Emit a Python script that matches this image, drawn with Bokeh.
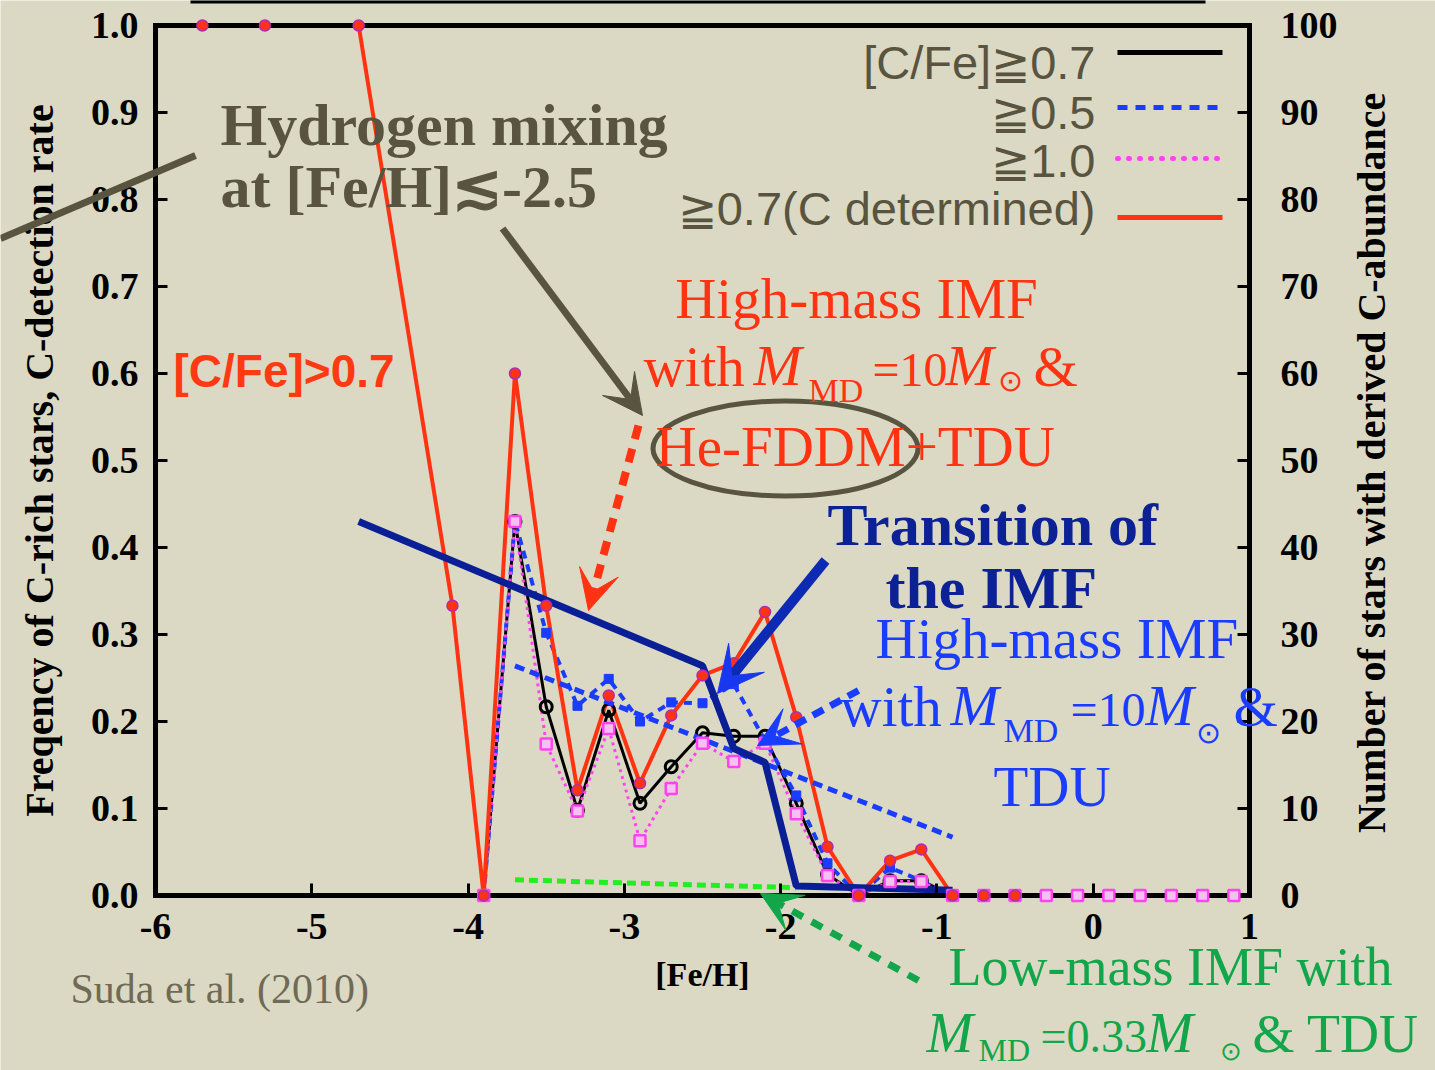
import math
from bokeh.plotting import figure
from bokeh.models import (Range1d, LinearAxis, FixedTicker, Label, Arrow, VeeHead,
                          ColumnDataSource, CDSView, BooleanFilter)
from bokeh.embed import file_html
from bokeh.resources import INLINE

# ---------------- data ----------------
# [C/Fe]>=0.7 among stars with C determined (red)
feh_red = [-5.7, -5.3, -4.7, -4.1, -3.9, -3.7, -3.5, -3.3, -3.1, -2.9, -2.7, -2.5,
           -2.3, -2.1, -1.9, -1.7, -1.5, -1.3, -1.1, -0.9, -0.7, -0.5]
frac_red = [1.0, 1.0, 1.0, 0.333, 0.0, 0.60, 0.333, 0.121, 0.230, 0.129, 0.207, 0.253,
            0.267, 0.326, 0.205, 0.056, 0.0, 0.040, 0.053, 0.0, 0.0, 0.0]

feh_bins = [-3.9, -3.7, -3.5, -3.3, -3.1, -2.9, -2.7, -2.5, -2.3, -2.1, -1.9, -1.7,
            -1.5, -1.3, -1.1, -0.9, -0.7, -0.5, -0.3, -0.1, 0.1, 0.3, 0.5, 0.7, 0.9]
frac_07 = [0.0, 0.430, 0.217, 0.098, 0.213, 0.106, 0.148, 0.187, 0.183, 0.183, 0.106, 0.024,
           0.0, 0.017, 0.017, 0.0, 0.0, 0.0, 0.0, 0.0, 0.0, 0.0, 0.0, 0.0, 0.0]
frac_05 = [0.0, 0.430, 0.302, 0.218, 0.249, 0.200, 0.222, 0.221, 0.243, 0.178, 0.115, 0.037,
           0.0, 0.032, 0.017, 0.0, 0.0, 0.0, 0.0, 0.0, 0.0, 0.0, 0.0, 0.0, 0.0]
frac_10 = [0.0, 0.430, 0.174, 0.097, 0.192, 0.063, 0.123, 0.175, 0.154, 0.175, 0.094, 0.023,
           0.0, 0.016, 0.016, 0.0, 0.0, 0.0, 0.0, 0.0, 0.0, 0.0, 0.0, 0.0, 0.0]

# model curves
feh_transition = [-4.7, -2.5, -2.3, -2.1, -1.9, -0.9]
frac_transition = [0.430, 0.264, 0.169, 0.153, 0.011, 0.006]
feh_highmass = [-3.7, -0.9]
frac_highmass = [0.264, 0.067]
feh_lowmass = [-3.7, -1.9]
frac_lowmass = [0.018, 0.009]

x_ticks = [-6, -5, -4, -3, -2, -1, 0, 1]
x_tick_labels = ["-6", "-5", "-4", "-3", "-2", "-1", "0", "1"]
y_ticks = [0.0, 0.1, 0.2, 0.3, 0.4, 0.5, 0.6, 0.7, 0.8, 0.9, 1.0]
y_tick_labels = ["0.0", "0.1", "0.2", "0.3", "0.4", "0.5", "0.6", "0.7", "0.8", "0.9", "1.0"]
n_ticks = [0, 10, 20, 30, 40, 50, 60, 70, 80, 90, 100]
n_tick_labels = ["0", "10", "20", "30", "40", "50", "60", "70", "80", "90", "100"]

legend_labels = ["[C/Fe]≧0.7", "≧0.5", "≧1.0", "≧0.7(C determined)"]

# ---------------- styles ----------------
BG = "#dbd9c4"
OLIVE = "#58543f"
RED = "#ff3311"
BLUE = "#1a3cff"
MAG = "#ff44ee"
NAVY = "#0a1f96"
GREEN_LINE = "#22ee22"
GREEN_TXT = "#12a54a"
SERIF = "Liberation Serif"
SANS = "Liberation Sans"

W, H = 1435, 1070
BASE_K = 0.34              # baseline correction for Label text (fraction of font size)


def X(px):                 # picture pixel -> [Fe/H]
    return -6 + (px - 155) * 7 / 1094


def Y(py):                 # picture pixel -> fraction
    return (895 - py) / 870


p = figure(width=W, height=H,
           x_range=Range1d(X(0), X(W)), y_range=Range1d(Y(H), Y(0)),
           output_backend="svg", toolbar_location=None,
           x_axis_location=None, y_axis_location=None,
           min_border=0, min_border_left=0, min_border_right=0,
           min_border_top=0, min_border_bottom=0,
           background_fill_color=BG, border_fill_color=BG, outline_line_color=None)
p.grid.visible = False
p.extra_y_ranges = {"n": Range1d(100 * Y(H), 100 * Y(0))}


def style_axis(ax, standoff):
    ax.major_label_text_font = SERIF
    ax.major_label_text_font_style = "bold"
    ax.major_label_text_font_size = "38px"
    ax.major_label_text_color = "black"
    ax.major_label_standoff = standoff
    ax.axis_line_width = 5
    ax.axis_line_cap = "square"
    ax.major_tick_line_width = 3
    ax.major_tick_in = 12
    ax.major_tick_out = 0
    ax.minor_tick_line_color = None
    ax.axis_label_text_font = SERIF
    ax.axis_label_text_font_style = "bold"
    ax.axis_label_text_color = "black"


xa = LinearAxis(fixed_location=0.0, bounds=(-6, 1), ticker=FixedTicker(ticks=x_ticks))
xa.major_label_overrides = dict(zip(x_ticks, x_tick_labels))
style_axis(xa, 18)
xa.axis_label = "[Fe/H]"
xa.axis_label_standoff = 14
xa.axis_label_text_font_size = "34px"
p.add_layout(xa, "below")

ya = LinearAxis(fixed_location=-6.0, bounds=(0, 1), ticker=FixedTicker(ticks=y_ticks))
ya.major_label_overrides = dict(zip(y_ticks, y_tick_labels))
style_axis(ya, 17)
ya.axis_label = "Freqency of C-rich stars, C-detection rate"
ya.axis_label_standoff = 26
ya.axis_label_text_font_size = "40px"
p.add_layout(ya, "left")

ra = LinearAxis(y_range_name="n", fixed_location=1.0, bounds=(0, 100),
                ticker=FixedTicker(ticks=n_ticks))
ra.major_label_overrides = dict(zip(n_ticks, n_tick_labels))
style_axis(ra, 31)
p.add_layout(ra, "right")

ta = LinearAxis(fixed_location=1.0, bounds=(-6, 1), ticker=FixedTicker(ticks=[]))
style_axis(ta, 0)
p.add_layout(ta, "above")

# right axis title (reads bottom-to-top as in the reference)
p.add_layout(Label(x=X(1371), y=Y(462), text="Number of stars with derived C-abundance",
                   angle=math.pi / 2, text_font=SERIF, text_font_style="bold",
                   text_font_size="40px", text_color="black", text_align="center",
                   text_baseline="middle"))

# partial frame line at the very top of the slide
p.segment(x0=[X(190)], y0=[Y(1)], x1=[X(1205)], y1=[Y(1)], line_color="black", line_width=4)

# ---------------- data series ----------------
src_bins = ColumnDataSource(dict(x=feh_bins, f07=frac_07, f05=frac_05, f10=frac_10))
nz07 = CDSView(filter=BooleanFilter([v > 0 for v in frac_07]))
nz05 = CDSView(filter=BooleanFilter([v > 0 for v in frac_05]))
src_red = ColumnDataSource(dict(x=feh_red, y=frac_red))

p.line("x", "f07", source=src_bins, line_color="black", line_width=3)
p.line("x", "f05", source=src_bins, line_color=BLUE, line_width=4, line_dash="8 6")
p.line("x", "f10", source=src_bins, line_color=MAG, line_width=3, line_dash="3 4")
p.line("x", "y", source=src_red, line_color=RED, line_width=4)

p.scatter("x", "f07", source=src_bins, view=nz07, marker="circle", size=12,
          fill_color=None, line_color="black", line_width=3)
p.scatter("x", "f05", source=src_bins, view=nz05, marker="square", size=9,
          fill_color=BLUE, line_color=BLUE)
p.scatter("x", "f10", source=src_bins, marker="square", size=11, level="annotation",
          fill_color="#f6c0f2", line_color=MAG, line_width=2.5)
p.scatter("x", "y", source=src_red, marker="circle", size=11, level="annotation",
          fill_color=RED, line_color="#b02cb0", line_width=1.5)

p.line(feh_lowmass, frac_lowmass, line_color=GREEN_LINE, line_width=5, line_dash="9 5")
p.line(feh_highmass, frac_highmass, line_color=BLUE, line_width=5, line_dash="10 6")
p.line(feh_transition, frac_transition, line_color=NAVY, line_width=7)


# ---------------- annotations ----------------
def lab(px, py, text, size, color, font=SERIF, style="normal", align="left"):
    p.add_layout(Label(x=X(px), y=Y(py - BASE_K * size), text=text, text_font=font,
                       text_font_size=f"{size}px", text_font_style=style,
                       text_color=color, text_align=align, text_baseline="alphabetic"))


def arrow(p0, p1, color, width, dash="solid", head=36, head_color=None):
    hc = head_color or color
    p.add_layout(Arrow(end=VeeHead(size=head, fill_color=hc, line_color=hc),
                       x_start=X(p0[0]), y_start=Y(p0[1]), x_end=X(p1[0]), y_end=Y(p1[1]),
                       line_color=color, line_width=width, line_dash=dash))


# ---------------- legend (manual, right-aligned text) ----------------
leg_text_y = [78, 128, 176, 224]
leg_line_y = [52, 107, 158, 217]
leg_styles = [dict(line_color="black", line_width=5),
              dict(line_color=BLUE, line_width=5, line_dash="10 8"),
              dict(line_color=MAG, line_width=5, line_dash="1 10", line_cap="round"),
              dict(line_color=RED, line_width=5)]
for txt, ty, ly, st in zip(legend_labels, leg_text_y, leg_line_y, leg_styles):
    lab(1095, ty, txt, 47, OLIVE, font=SANS, align="right")
    p.segment(x0=[X(1117)], y0=[Y(ly)], x1=[X(1222)], y1=[Y(ly)], **st)

# pointer line from the left edge
p.add_layout(Arrow(end=None, x_start=X(0), y_start=Y(238), x_end=X(195), y_end=Y(155),
                   line_color=OLIVE, line_width=7))

# Hydrogen mixing
lab(220, 145, "Hydrogen mixing", 60, OLIVE, style="bold")
lab(220, 207, "at [Fe/H]≲-2.5", 60, OLIVE, style="bold")
arrow((502, 228), (642, 415), OLIVE, 7, head=40)

# [C/Fe]>0.7
lab(173, 386, "[C/Fe]>0.7", 46, "#ff3a12", font=SANS, style="bold")

# red block
lab(856, 317, "High-mass IMF", 57, RED, align="center")
lab(643, 385, "with", 57, RED)
lab(753, 385, "M", 58, RED, style="italic")
lab(808, 402, "MD", 34, RED)
lab(872, 385, "=10", 48, RED)
lab(945, 385, "M", 58, RED, style="italic")
lab(997, 390, "⊙", 30, RED)
lab(1033, 385, "&", 57, RED)
lab(655, 465, "He-FDDM+TDU", 57, RED)
p.ellipse(x=[X(785)], y=[Y(448)], width=265, height=95, width_units="screen",
          height_units="screen", fill_color=None, line_color=OLIVE, line_width=5)
arrow((638, 425), (588, 610), RED, 8, dash="14 10", head=40)

# transition of the IMF
lab(827, 545, "Transition of", 60, "#0c2196", style="bold")
lab(885, 608, "the IMF", 60, "#0c2196", style="bold")
arrow((825, 560), (717, 693), "#0d2ab5", 10, head=46, head_color="#1838f0")

# blue block
lab(875, 657, "High-mass IMF", 57, BLUE)
lab(840, 725, "with", 57, BLUE)
lab(950, 725, "M", 58, BLUE, style="italic")
lab(1003, 742, "MD", 34, BLUE)
lab(1070, 725, "=10", 48, BLUE)
lab(1145, 725, "M", 58, BLUE, style="italic")
lab(1195, 742, "⊙", 30, BLUE)
lab(1233, 725, "&", 57, BLUE)
lab(993, 805, "TDU", 57, BLUE)
arrow((858, 690), (757, 745), BLUE, 7, dash="12 8", head=40)

# green block
lab(948, 985, "Low-mass IMF with", 54, GREEN_TXT)
lab(926, 1052, "M", 56, GREEN_TXT, style="italic")
lab(978, 1060, "MD", 32, GREEN_TXT)
lab(1040, 1052, "=0.33", 46, GREEN_TXT)
lab(1146, 1052, "M", 56, GREEN_TXT, style="italic")
lab(1219, 1060, "⊙", 26, GREEN_TXT)
lab(1252, 1052, "& TDU", 54, GREEN_TXT)
arrow((918, 980), (760, 893), GREEN_TXT, 7, dash="12 10", head=40)

# citation
lab(70, 1003, "Suda et al. (2010)", 42, "#6f6a55")

open("out.html", "w").write(file_html(p, INLINE))
